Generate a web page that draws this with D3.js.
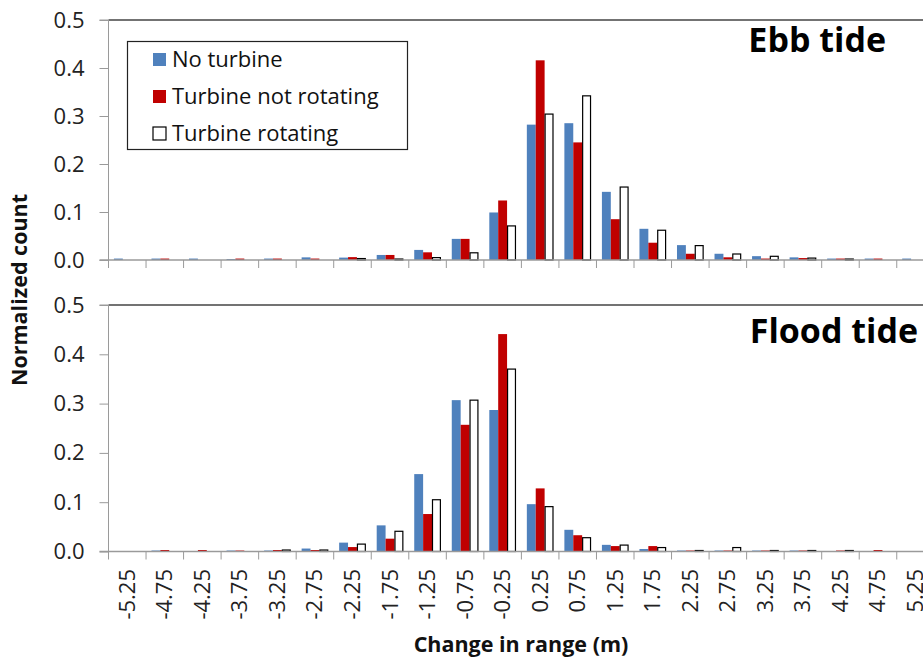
<!DOCTYPE html>
<html><head><meta charset="utf-8">
<script src="https://cdn.jsdelivr.net/npm/d3@7"></script>
<style>body{margin:0;background:#fff;} svg{display:block;font-family:"Open Sans",sans-serif;}</style>
</head><body>
<svg id="chart" width="923" height="660"></svg>
<script>
const categories = ["-5.25","-4.75","-4.25","-3.75","-3.25","-2.75","-2.25","-1.75","-1.25","-0.75","-0.25","0.25","0.75","1.25","1.75","2.25","2.75","3.25","3.75","4.25","4.75","5.25"];
const seriesNames = ["No turbine","Turbine not rotating","Turbine rotating"];
const seriesColors = ["#4F81BD","#C00000","#FFFFFF"];
const yTicks = [0,0.1,0.2,0.3,0.4,0.5];

// Ebb tide
const ebbNoTurbine     = [0.003,0.003,0.003,0.002,0.003,0.0055,0.005,0.0105,0.021,0.044,0.099,0.282,0.285,0.142,0.065,0.031,0.013,0.008,0.0055,0.003,0.003,0.003];
const ebbNotRotating   = [0,0.003,0,0.003,0.003,0.003,0.006,0.0105,0.016,0.044,0.124,0.416,0.245,0.085,0.036,0.013,0.0056,0.003,0.004,0.003,0.003,0];
const ebbRotating      = [0,0,0,0,0,0,0.003,0.002,0.005,0.015,0.071,0.304,0.342,0.152,0.062,0.030,0.0125,0.0077,0.004,0.002,0,0];
// Flood tide
const floodNoTurbine   = [0,0.002,0,0.002,0.002,0.006,0.018,0.053,0.157,0.307,0.287,0.096,0.044,0.0135,0.005,0.002,0.002,0.002,0.002,0,0,0];
const floodNotRotating = [0,0.003,0.003,0.002,0.003,0.003,0.009,0.026,0.076,0.257,0.441,0.128,0.033,0.011,0.011,0.002,0.002,0.002,0.002,0.002,0.003,0];
const floodRotating    = [0,0,0,0,0.003,0.003,0.015,0.041,0.105,0.307,0.370,0.091,0.028,0.013,0.008,0.002,0.008,0.002,0.002,0.002,0,0];

const panels = [
  {title:"Ebb tide", series:[ebbNoTurbine,ebbNotRotating,ebbRotating], top:20, bottom:260, titleX:886, titleY:52},
  {title:"Flood tide", series:[floodNoTurbine,floodNotRotating,floodRotating], top:305, bottom:551.5, titleX:918, titleY:343}
];

const svg = d3.select("#chart");
const left = 108.5, right = 934.3;
const xb = d3.scaleBand().domain(categories).range([left,right]).padding(0);
const x0 = d3.scaleBand().domain(categories).range([left,right]).paddingInner(0.29).paddingOuter(0.145);
const x1 = d3.scaleBand().domain(d3.range(3)).range([0,x0.bandwidth()]).padding(0);
const axisGray = "#9a9a9a";

panels.forEach((p,pi)=>{
  const y = d3.scaleLinear().domain([0,0.5]).range([p.bottom,p.top]);
  const g = svg.append("g");
  g.append("line").attr("x1",left).attr("x2",923).attr("y1",y(0.5)).attr("y2",y(0.5)).attr("stroke","#444").attr("stroke-width",1.3);
  p.series.forEach((vals,si)=>{
    g.selectAll(null).data(categories).enter().append("rect")
      .attr("x",c=>x0(c)+x1(si)+(si===2?0.5:0))
      .attr("width",x1.bandwidth()-(si===2?1:0))
      .attr("y",(c,i)=>y(vals[i]))
      .attr("height",(c,i)=>Math.max(0,y(0)-y(vals[i])))
      .attr("fill",seriesColors[si])
      .attr("stroke",si===2?"#000":"none")
      .attr("stroke-width",si===2?1.2:0)
      .attr("display",(c,i)=>vals[i]>0?null:"none");
  });
  const ya = d3.axisLeft(y).tickValues(yTicks).tickFormat(d3.format(".1f")).tickSize(9).tickPadding(15);
  const yg = g.append("g").attr("transform",`translate(${left},0)`).call(ya);
  yg.select(".domain").attr("stroke",axisGray).attr("d",`M-9,${y(0.5)}H0V${y(0)+8}`);
  yg.selectAll(".tick line").attr("stroke",axisGray);
  yg.selectAll(".tick text").attr("font-size",22).attr("fill","#222").attr("font-family","Open Sans");
  g.append("line").attr("x1",left-9).attr("x2",923).attr("y1",y(0)).attr("y2",y(0)).attr("stroke",axisGray).attr("stroke-width",1.3);
  g.selectAll(null).data(categories.slice(1)).enter().append("line")
    .attr("x1",c=>xb(c)).attr("x2",c=>xb(c)).attr("y1",y(0)).attr("y2",y(0)+8)
    .attr("stroke",axisGray);
  g.append("text").attr("x",p.titleX).attr("y",p.titleY).attr("text-anchor","end")
    .attr("font-size",34).attr("font-weight","bold").attr("fill","#000").text(p.title);
  if(pi===1){
    g.selectAll(null).data(categories).enter().append("text")
      .attr("transform",c=>`translate(${xb(c)+xb.bandwidth()/2+7.5},${y(0)+17.5}) rotate(-90)`)
      .attr("text-anchor","end").attr("font-size",22).attr("fill","#222").text(c=>c);
  }
});

const lg = svg.append("g");
lg.append("rect").attr("x",127.5).attr("y",41.5).attr("width",280).attr("height",108).attr("fill","#fff").attr("stroke","#222").attr("stroke-width",1.2);
seriesNames.forEach((n,i)=>{
  const cy = 59 + i*37;
  lg.append("rect").attr("x",153).attr("y",cy-6).attr("width",13).attr("height",13)
    .attr("fill",seriesColors[i]).attr("stroke",i===2?"#000":"none").attr("stroke-width",1.2);
  lg.append("text").attr("x",172).attr("y",cy+7.5).attr("font-size",22).attr("fill","#111").text(n);
});

svg.append("text").attr("x",521).attr("y",652).attr("text-anchor","middle").attr("font-size",21.5).attr("font-weight","bold").attr("fill","#111").text("Change in range (m)");
svg.append("text").attr("transform","translate(27,290) rotate(-90)").attr("text-anchor","middle").attr("font-size",21.5).attr("font-weight","bold").attr("fill","#111").text("Normalized count");
</script>
</body></html>
